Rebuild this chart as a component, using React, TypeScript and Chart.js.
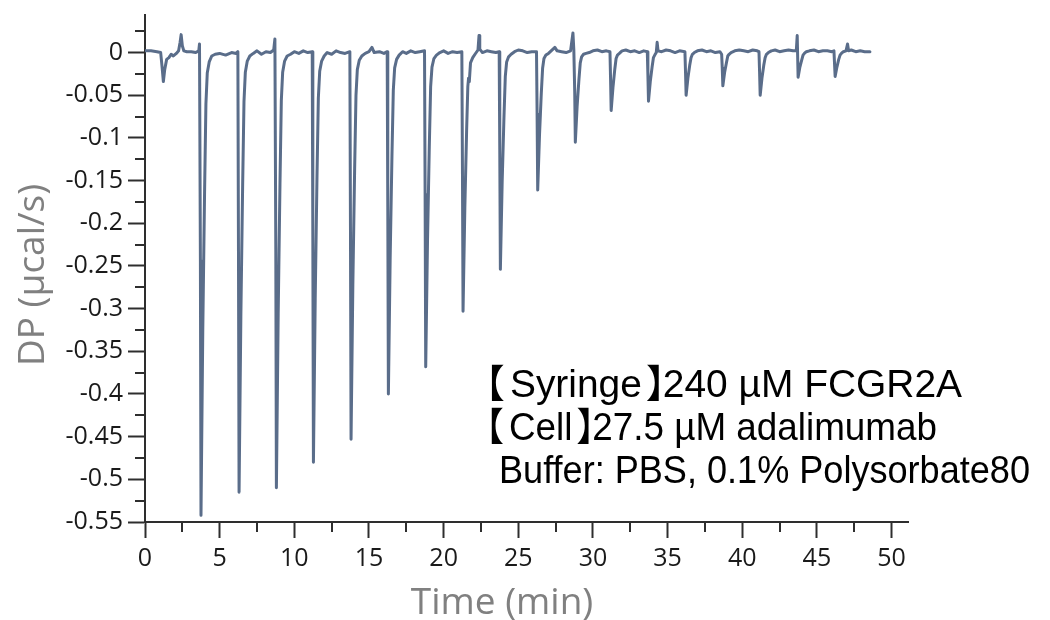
import { useEffect, useRef } from 'react';
import { Chart, registerables } from 'chart.js';

Chart.register(...registerables);

// ---- Data (time in min, DP in µcal/s) ----
const timeMin: number[] = [
  0, 0.4, 0.8, 1.05, 1.15, 1.23, 1.32, 1.45, 1.6, 1.75, 1.9, 2.1, 2.25, 2.35, 2.42, 2.5, 2.6, 2.8, 3.1, 3.4, 3.6, 3.65,
  3.71, 3.75, 3.87, 3.99, 4.08, 4.17, 4.30, 4.47, 4.7, 5.0, 5.4, 5.8, 6.1, 6.22,
  6.26, 6.30, 6.42, 6.54, 6.63, 6.72, 6.85, 7.02, 7.25, 7.5, 7.8, 8.1, 8.4, 8.62, 8.70,
  8.76, 8.80, 8.92, 9.04, 9.13, 9.22, 9.35, 9.52, 9.75, 10.0, 10.3, 10.6, 10.9, 11.2,
  11.24, 11.28, 11.40, 11.52, 11.61, 11.70, 11.83, 12.00, 12.2, 12.5, 12.8, 13.1, 13.4, 13.72,
  13.76, 13.80, 13.92, 14.04, 14.13, 14.22, 14.35, 14.52, 14.75, 15.0, 15.2, 15.35, 15.7, 16.0, 16.22,
  16.26, 16.30, 16.42, 16.54, 16.63, 16.72, 16.85, 17.02, 17.25, 17.5, 17.8, 18.1, 18.4, 18.72,
  18.76, 18.80, 18.92, 19.04, 19.13, 19.22, 19.35, 19.52, 19.75, 20.0, 20.3, 20.6, 20.9, 21.22,
  21.26, 21.30, 21.42, 21.54, 21.62, 21.67, 21.72, 21.80, 21.95, 22.1, 22.3, 22.37, 22.42, 22.6, 22.9, 23.2, 23.5, 23.72,
  23.76, 23.80, 23.92, 24.04, 24.13, 24.22, 24.35, 24.52, 24.75, 25.0, 25.3, 25.6, 25.9, 26.22,
  26.26, 26.30, 26.42, 26.54, 26.63, 26.72, 26.85, 27.02, 27.2, 27.45, 27.6, 27.9, 28.2, 28.5, 28.66, 28.72,
  28.78, 28.82, 28.94, 29.06, 29.15, 29.24, 29.37, 29.54, 29.75, 30.0, 30.3, 30.6, 30.9, 31.14,
  31.18, 31.22, 31.34, 31.46, 31.55, 31.64, 31.77, 31.95, 32.2, 32.5, 32.8, 33.1, 33.4, 33.64,
  33.68, 33.72, 33.84, 33.96, 34.05, 34.14, 34.24, 34.3, 34.36, 34.6, 34.9, 35.2, 35.5, 35.8, 36.16,
  36.20, 36.24, 36.36, 36.48, 36.57, 36.66, 36.79, 37.0, 37.3, 37.6, 37.9, 38.2, 38.5, 38.62,
  38.66, 38.70, 38.82, 38.94, 39.03, 39.12, 39.25, 39.5, 39.8, 40.1, 40.4, 40.7, 41.0, 41.12,
  41.16, 41.20, 41.32, 41.44, 41.53, 41.62, 41.75, 41.95, 42.2, 42.5, 42.8, 43.1, 43.4, 43.62, 43.68,
  43.74, 43.86, 43.98, 44.07, 44.16, 44.29, 44.5, 44.8, 45.1, 45.4, 45.7, 46.0, 46.14,
  46.18, 46.22, 46.34, 46.46, 46.55, 46.64, 46.77, 46.95, 47.05, 47.12, 47.3, 47.6, 47.9, 48.2, 48.55,
];

const dpUcalPerSec: number[] = [
  0.002, 0.002, 0.001, 0.000, -0.018, -0.034, -0.020, -0.008, -0.006, -0.002, -0.004, -0.001, 0.002, 0.012, 0.021, 0.008, 0.002, 0.001, 0.001, 0.000, 0.002, 0.010,
  -0.244, -0.542, -0.325, -0.163, -0.060, -0.024, -0.011, -0.004, -0.002, -0.001, -0.003, 0.000, -0.001, 0.001,
  -0.232, -0.515, -0.309, -0.155, -0.057, -0.023, -0.010, -0.004, -0.001, 0.002, -0.002, 0.001, 0.000, 0.003, 0.016,
  -0.230, -0.510, -0.306, -0.153, -0.056, -0.023, -0.010, -0.004, -0.002, 0.001, -0.001, 0.002, 0.000, 0.001,
  -0.216, -0.480, -0.288, -0.144, -0.053, -0.022, -0.010, -0.004, 0.000, -0.002, 0.002, 0.000, -0.001, 0.001,
  -0.204, -0.453, -0.272, -0.136, -0.050, -0.020, -0.009, -0.004, -0.001, 0.001, 0.006, 0.000, 0.001, -0.001, 0.001,
  -0.180, -0.400, -0.240, -0.120, -0.044, -0.018, -0.008, -0.003, 0.001, -0.001, 0.002, 0.000, 0.001, 0.002,
  -0.166, -0.368, -0.221, -0.110, -0.040, -0.017, -0.007, -0.003, 0.000, 0.002, -0.001, 0.001, 0.000, 0.001,
  -0.136, -0.303, -0.182, -0.091, -0.040, -0.030, -0.034, -0.012, -0.006, -0.002, 0.003, 0.020, 0.004, 0.000, 0.002, 0.001, 0.000, 0.001,
  -0.114, -0.254, -0.152, -0.076, -0.028, -0.011, -0.005, -0.002, 0.001, 0.003, 0.002, 0.000, 0.001, 0.001,
  -0.072, -0.161, -0.097, -0.048, -0.018, -0.007, -0.003, -0.001, 0.002, 0.006, 0.002, 0.001, 0.000, 0.002, 0.023, 0.003,
  -0.047, -0.105, -0.063, -0.032, -0.012, -0.005, -0.002, -0.001, 0.000, 0.002, 0.003, 0.001, 0.002, 0.001,
  -0.031, -0.068, -0.041, -0.020, -0.007, -0.003, -0.001, 0.002, 0.003, 0.001, 0.002, 0.000, 0.002, 0.001,
  -0.026, -0.057, -0.034, -0.017, -0.006, -0.003, 0.000, 0.012, 0.002, 0.001, 0.003, 0.002, 0.000, 0.002, 0.001,
  -0.023, -0.050, -0.030, -0.015, -0.006, -0.002, 0.000, 0.002, 0.003, 0.001, 0.002, 0.000, 0.001, -0.002,
  -0.018, -0.039, -0.023, -0.012, -0.004, -0.002, 0.000, 0.002, 0.003, 0.002, 0.001, 0.003, 0.002, 0.001,
  -0.023, -0.050, -0.030, -0.015, -0.006, -0.002, 0.000, 0.002, 0.003, 0.001, 0.002, 0.003, 0.002, 0.002, 0.020,
  -0.029, -0.017, -0.009, -0.003, -0.001, 0.001, 0.002, 0.003, 0.001, 0.002, 0.002, 0.001, 0.002,
  -0.013, -0.028, -0.017, -0.008, -0.003, -0.001, 0.001, 0.002, 0.010, 0.002, 0.003, 0.001, 0.002, 0.001, 0.001,
];

const xTickValues: number[] = [0, 5, 10, 15, 20, 25, 30, 35, 40, 45, 50];
const xTickLabels: string[] = ['0', '5', '10', '15', '20', '25', '30', '35', '40', '45', '50'];
const xMinorTicks: number[] = [2.5, 7.5, 12.5, 17.5, 22.5, 27.5, 32.5, 37.5, 42.5, 47.5];

const yTickValues: number[] = [0, -0.05, -0.1, -0.15, -0.2, -0.25, -0.3, -0.35, -0.4, -0.45, -0.5, -0.55];
const yTickLabels: string[] = ['0', '-0.05', '-0.1', '-0.15', '-0.2', '-0.25', '-0.3', '-0.35', '-0.4', '-0.45', '-0.5', '-0.55'];
const yMinorTicks: number[] = [0.025, -0.025, -0.075, -0.125, -0.175, -0.225, -0.275, -0.325, -0.375, -0.425, -0.475, -0.525];

const xTitle = 'Time (min)';
const yTitle = 'DP (µcal/s)';
const noteLines: string[] = [
  '【Syringe】240 µM FCGR2A',
  '【Cell】27.5 µM adalimumab',
  ' Buffer: PBS, 0.1% Polysorbate80',
];
// where each note line starts and ends, and its baseline (page pixels)
const noteLeft: number[] = [490, 490, 489];
const noteRight: number[] = [962, 937, 1030];
const noteBaseline: number[] = [397, 440, 483];

const LINE_COLOR = '#5a6d8a';
const AXIS_COLOR = '#2e2e2e';
const TICK_TEXT = '#1a1a1a';
const TITLE_COLOR = '#808080';
const UI_FONT = '"Open Sans", "Noto Sans", sans-serif';
const NOTE_FONT = '39px "Liberation Sans", Arial, sans-serif';
const BRACKET_FONT = '39px "Noto Sans CJK JP", "Noto Sans CJK SC", sans-serif';

// lays out a note line; draws it only when draw is true; returns its width
function layoutNoteLine(ctx: CanvasRenderingContext2D, text: string, draw: boolean): number {
  const parts = text.split(/(【|】)/).filter((s) => s.length > 0);
  let cx = 0;
  for (const p of parts) {
    if (p === '【' || p === '】') {
      ctx.font = BRACKET_FONT;
      const m = ctx.measureText(p);
      const gapBefore = p === '【' ? 1 : 5;
      const gapAfter = p === '【' ? 6 : 3;
      const drawX = cx + gapBefore + m.actualBoundingBoxLeft;
      if (draw) ctx.fillText(p, drawX, 0);
      cx = drawX + m.actualBoundingBoxRight + gapAfter;
    } else {
      ctx.font = NOTE_FONT;
      if (draw) ctx.fillText(p, cx, 0);
      cx += ctx.measureText(p).width;
    }
  }
  return cx;
}

const overlayPlugin = {
  id: 'overlay',
  afterDraw(chart: any) {
    const { ctx, chartArea } = chart;
    const xs = chart.scales.x;
    const ys = chart.scales.y;
    ctx.save();
    // minor ticks
    ctx.strokeStyle = AXIS_COLOR;
    ctx.lineWidth = 2;
    ctx.beginPath();
    for (const v of yMinorTicks) {
      const py = Math.round(ys.getPixelForValue(v));
      ctx.moveTo(chartArea.left - 10, py);
      ctx.lineTo(chartArea.left, py);
    }
    for (const v of xMinorTicks) {
      const px = Math.round(xs.getPixelForValue(v));
      ctx.moveTo(px, chartArea.bottom);
      ctx.lineTo(px, chartArea.bottom + 10);
    }
    ctx.stroke();

    // axis titles
    ctx.fillStyle = TITLE_COLOR;
    ctx.font = '37px ' + UI_FONT;
    ctx.textAlign = 'center';
    ctx.textBaseline = 'alphabetic';
    ctx.fillText(xTitle, 502, 614);
    ctx.save();
    ctx.translate(44, 275);
    ctx.rotate(-Math.PI / 2);
    ctx.fillText(yTitle, 0, 0);
    ctx.restore();

    // annotation
    ctx.fillStyle = '#000000';
    ctx.textAlign = 'left';
    noteLines.forEach((line, i) => {
      const natural = layoutNoteLine(ctx, line, false);
      const sx = (noteRight[i] - noteLeft[i]) / natural;
      ctx.save();
      ctx.translate(noteLeft[i], noteBaseline[i]);
      ctx.scale(sx, 1);
      layoutNoteLine(ctx, line, true);
      ctx.restore();
    });
    ctx.restore();
  },
};

export default function App() {
  const canvasRef = useRef<HTMLCanvasElement | null>(null);

  useEffect(() => {
    document.body.style.margin = '0';
    const canvas = canvasRef.current;
    if (!canvas) return;
    const chart = new Chart(canvas, {
      type: 'line',
      data: {
        datasets: [
          {
            data: timeMin.map((t, i) => ({ x: t, y: dpUcalPerSec[i] })),
            borderColor: LINE_COLOR,
            borderWidth: 3,
            pointRadius: 0,
            pointHoverRadius: 0,
            tension: 0,
            fill: false,
            borderJoinStyle: 'round',
            borderCapStyle: 'round',
          },
        ],
      },
      options: {
        responsive: false,
        animation: false,
        events: [],
        layout: { autoPadding: false, padding: { top: 12, right: 142, bottom: 0, left: 0 } },
        plugins: { legend: { display: false }, tooltip: { enabled: false }, title: { display: false } },
        scales: {
          x: {
            type: 'linear',
            min: 0,
            max: 51.1,
            afterBuildTicks: (scale: any) => {
              scale.ticks = xTickValues.map((v) => ({ value: v }));
            },
            afterFit: (scale: any) => {
              scale.height = 98;
            },
            grid: {
              display: true,
              drawOnChartArea: false,
              drawTicks: true,
              tickLength: 16,
              tickWidth: 2,
              tickColor: AXIS_COLOR,
            },
            border: { display: true, color: AXIS_COLOR, width: 2 },
            ticks: {
              color: TICK_TEXT,
              font: { family: UI_FONT, size: 25, lineHeight: 1 },
              padding: 8,
              maxRotation: 0,
              autoSkip: false,
              callback: (_v: any, i: number) => xTickLabels[i],
            },
          },
          y: {
            type: 'linear',
            min: -0.55,
            max: 0.044,
            afterBuildTicks: (scale: any) => {
              scale.ticks = yTickValues.map((v) => ({ value: v }));
            },
            afterFit: (scale: any) => {
              scale.width = 145;
            },
            grid: {
              display: true,
              drawOnChartArea: false,
              drawTicks: true,
              tickLength: 17,
              tickWidth: 2,
              tickColor: AXIS_COLOR,
            },
            border: { display: true, color: AXIS_COLOR, width: 2 },
            ticks: {
              color: TICK_TEXT,
              font: { family: UI_FONT, size: 25, lineHeight: 0.8 },
              padding: 5,
              autoSkip: false,
              callback: (_v: any, i: number) => yTickLabels[i],
            },
          },
        },
      },
      plugins: [overlayPlugin],
    });
    return () => chart.destroy();
  }, []);

  return (
    <div style={{ width: 1050, height: 620, background: '#ffffff' }}>
      <canvas ref={canvasRef} width={1050} height={620} style={{ display: 'block' }} />
    </div>
  );
}
